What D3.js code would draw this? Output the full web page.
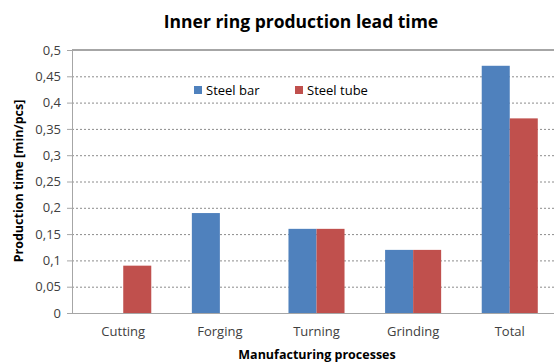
<!DOCTYPE html>
<html><head><meta charset="utf-8">
<script src="https://cdn.jsdelivr.net/npm/d3@7"></script>
<style>body{margin:0;background:#fff;} svg{display:block;}</style>
</head><body>
<svg id="c" width="554" height="363"></svg>
<script>
const categories = ["Cutting","Forging","Turning","Grinding","Total"];
const seriesNames = ["Steel bar","Steel tube"];
const steelBar  = [null, 0.19, 0.16, 0.12, 0.47];
const steelTube = [0.09, null, 0.16, 0.12, 0.37];
const yTicks = [0,0.05,0.1,0.15,0.2,0.25,0.3,0.35,0.4,0.45,0.5];
const yTickLabels = ["0","0,05","0,1","0,15","0,2","0,25","0,3","0,35","0,4","0,45","0,5"];
const colors = ["#4f81bd","#c0504d"];

const svg = d3.select("#c");
const font = "'Open Sans', sans-serif";
const x = d3.scaleBand().domain(categories).range([73, 560]).paddingInner(0.42).paddingOuter(0.23);
const x1 = d3.scaleBand().domain(seriesNames).range([0, x.bandwidth()]);
const y = d3.scaleLinear().domain([0,0.5]).range([313,50]);

// gridlines
svg.append("g").selectAll("line").data(yTicks.filter(t=>t>0 && t<0.5)).join("line")
  .attr("x1",72).attr("x2",554).attr("y1",d=>y(d)+0.5).attr("y2",d=>y(d)+0.5)
  .attr("stroke","#8c8c8c").attr("stroke-width",1).attr("stroke-dasharray","2,2");
// top border
svg.append("line").attr("x1",72).attr("x2",554).attr("y1",y(0.5)).attr("y2",y(0.5))
  .attr("stroke","#a6a6a6").attr("stroke-width",2);

// bars
const data = [];
categories.forEach((c,i)=>{
  [steelBar, steelTube].forEach((s,j)=>{ if(s[i]!=null) data.push({c, s:seriesNames[j], v:s[i], j}); });
});
svg.append("g").selectAll("rect").data(data).join("rect")
  .attr("x",d=>x(d.c)+x1(d.s)).attr("width",x1.bandwidth())
  .attr("y",d=>y(d.v)).attr("height",d=>y(0)-y(d.v))
  .attr("fill",d=>colors[d.j]);

// y axis
const ya = svg.append("g").attr("transform","translate(72,0)")
  .call(d3.axisLeft(y).tickValues(yTicks).tickFormat((d,i)=>yTickLabels[i]).tickSize(5).tickPadding(6));
ya.select(".domain").attr("stroke","#a6a6a6");
ya.selectAll(".tick line").attr("stroke","#a6a6a6");
ya.selectAll("text").attr("font-family",font).attr("font-size",13).attr("fill","#404040");

// x axis
const xa = svg.append("g").attr("transform","translate(0,313)")
  .call(d3.axisBottom(x).tickSize(0).tickPadding(14));
xa.select(".domain").attr("stroke","#a6a6a6").attr("d","M67,0.5H554");
xa.selectAll("text").attr("font-family",font).attr("font-size",13).attr("fill","#404040");

// title
svg.append("text").attr("x",301).attr("y",28).attr("text-anchor","middle")
  .attr("font-family",font).attr("font-weight","bold").attr("font-size",17.5).attr("fill","#000")
  .text("Inner ring production lead time");
svg.append("text").attr("x",317).attr("y",359).attr("text-anchor","middle")
  .attr("font-family",font).attr("font-weight","bold").attr("font-size",12.5).attr("fill","#000")
  .text("Manufacturing processes");
svg.append("text").attr("transform","translate(23,181) rotate(-90)").attr("text-anchor","middle")
  .attr("font-family",font).attr("font-weight","bold").attr("font-size",12.5).attr("fill","#000")
  .text("Production time [min/pcs]");

// legend
const lg = svg.append("g");
const lx = [194, 295];
seriesNames.forEach((n,i)=>{
  lg.append("rect").attr("x",lx[i]).attr("y",86).attr("width",8).attr("height",8).attr("fill",colors[i]);
  lg.append("text").attr("x",lx[i]+12).attr("y",95).attr("font-family",font).attr("font-size",13)
    .attr("fill","#000").text(n);
});
</script>
</body></html>
